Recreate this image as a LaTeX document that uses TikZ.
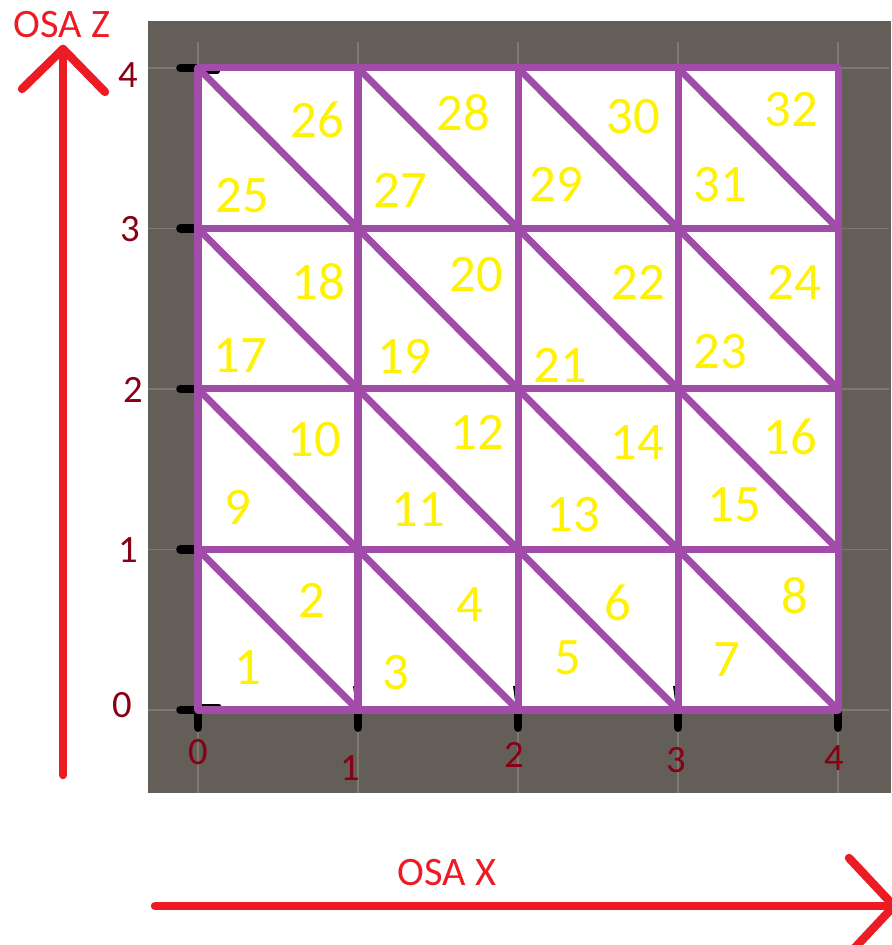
\documentclass[tikz,border=0pt]{standalone}
\usepackage{fontspec}
\setmainfont{Carlito}
\usepackage{tikz}
\usetikzlibrary{arrows.meta, positioning}

\definecolor{boardgray}{RGB}{100,94,89}
\definecolor{faintline}{RGB}{126,120,115}
\definecolor{meshpurple}{RGB}{161,76,168}
\definecolor{numyellow}{RGB}{255,242,0}
\definecolor{axisred}{RGB}{237,28,36}
\definecolor{ticklabel}{RGB}{136,0,21}

\begin{document}
\begin{tikzpicture}[
    board/.style={fill=boardgray, draw=none},
    faint/.style={faintline, line width=0.5pt},
    mesh/.style={meshpurple, line width=2pt, line cap=round},
    tickmark/.style={black, line width=2.4pt, line cap=round},
    tri/.style={text=numyellow, font=\fontsize{15}{15}\selectfont, inner sep=0pt},
    ticklbl/.style={text=ticklabel, font=\fontsize{11}{11}\selectfont, inner sep=0pt},
    axis/.style={axisred, line width=2.4pt, line cap=round, line join=round},
    axislbl/.style={text=axisred, font=\fontsize{11.5}{11.5}\selectfont, inner sep=0pt},
]
  \useasboundingbox (0,0) rectangle (8.91,9.45);

  % gray board with faint unit lines
  \fill[board] (1.48,1.52) rectangle (8.91,9.24);
  \begin{scope}[shift={(1.98,2.35)}, x=1.6cm, y=1.605cm]
    \foreach \i in {0,...,4} {
      \draw[faint] (\i,-0.52) -- (\i,4.16);
      \draw[faint] (-0.31,\i) -- (4.32,\i);
    }
    \fill[white] (0,0) rectangle (4,4);

    % grid points
    \foreach \i in {0,...,4}
      \foreach \j in {0,...,4}
        \coordinate (g-\i-\j) at (\i,\j);

    % ticks on both axes
    \foreach \i in {0,...,4} {
      \draw[tickmark] (g-0-\i) -- ++(-0.11,0);
      \draw[tickmark] (g-\i-0) -- ++(0,-0.11);
    }
    \draw[tickmark, line width=1.6pt] (g-0-0) ++(0,0.02) -- ++(0.13,0);
    \draw[tickmark, line width=1.6pt] (g-0-4) ++(0,-0.02) -- ++(0.12,0);
    \foreach \i in {1,2,3}
      \draw[black, line width=1pt] (g-\i-0) -- ++(-0.02,0.15);

    % mesh: cells and diagonals
    \foreach \i in {0,...,4} {
      \draw[mesh] (g-\i-0) -- (g-\i-4);
      \draw[mesh] (g-0-\i) -- (g-4-\i);
    }
    \foreach \i in {0,...,3}
      \foreach \j in {0,...,3}
        \draw[mesh] (\i,\j+1) -- (\i+1,\j);
  \end{scope}

  % triangle numbers
  \foreach \n/\x/\y in {
      1/2.48/2.77, 2/3.12/3.45, 3/3.96/2.72, 4/4.70/3.40,
      5/5.68/2.87, 6/6.18/3.42, 7/7.27/2.85, 8/7.95/3.49,
      9/2.38/4.38, 10/3.14/5.05, 11/4.18/4.35, 12/4.77/5.13,
      13/5.73/4.30, 14/6.37/5.02, 15/7.34/4.40, 16/7.90/5.08,
      17/2.40/5.89, 18/3.18/6.63, 19/4.04/5.89, 20/4.76/6.70,
      21/5.60/5.80, 22/6.38/6.63, 23/7.20/5.93, 24/7.94/6.63,
      25/2.42/7.49, 26/3.17/8.25, 27/4.00/7.55, 28/4.63/8.32,
      29/5.56/7.61, 30/6.33/8.28, 31/7.20/7.60, 32/7.91/8.35}
    \node[tri] (t\n) at (\x,\y) {\n};

  % axis numbers
  \foreach \n/\x/\y in {4/1.28/8.70, 3/1.30/7.16, 2/1.33/5.55, 1/1.28/3.95, 0/1.22/2.40}
    \node[ticklbl] (zl\n) at (\x,\y) {\n};
  \foreach \n/\x/\y in {0/1.98/1.93, 1/3.50/1.77, 2/5.14/1.90, 3/6.76/1.85, 4/8.34/1.87}
    \node[ticklbl] (xl\n) at (\x,\y) {\n};

  % axes
  \coordinate (zfoot) at (0.63,1.70);
  \coordinate (zhead) at (0.63,8.96);
  \coordinate (xfoot) at (1.55,0.39);
  \coordinate (xhead) at (8.94,0.39);
  \draw[axis] (zfoot) -- (zhead);
  \draw[axis] (zhead) ++(-0.41,-0.40) -- (zhead) -- ++(0.42,-0.43);
  \draw[axis] (xfoot) -- (xhead);
  \draw[axis] (xhead) ++(-0.45,0.48) -- (xhead) -- ++(-0.45,-0.48);
  \node[axislbl] (zname) at (0.62,9.20) {OSA Z};
  \node[axislbl] (xname) at (4.47,0.72) {OSA X};
\end{tikzpicture}
\end{document}
